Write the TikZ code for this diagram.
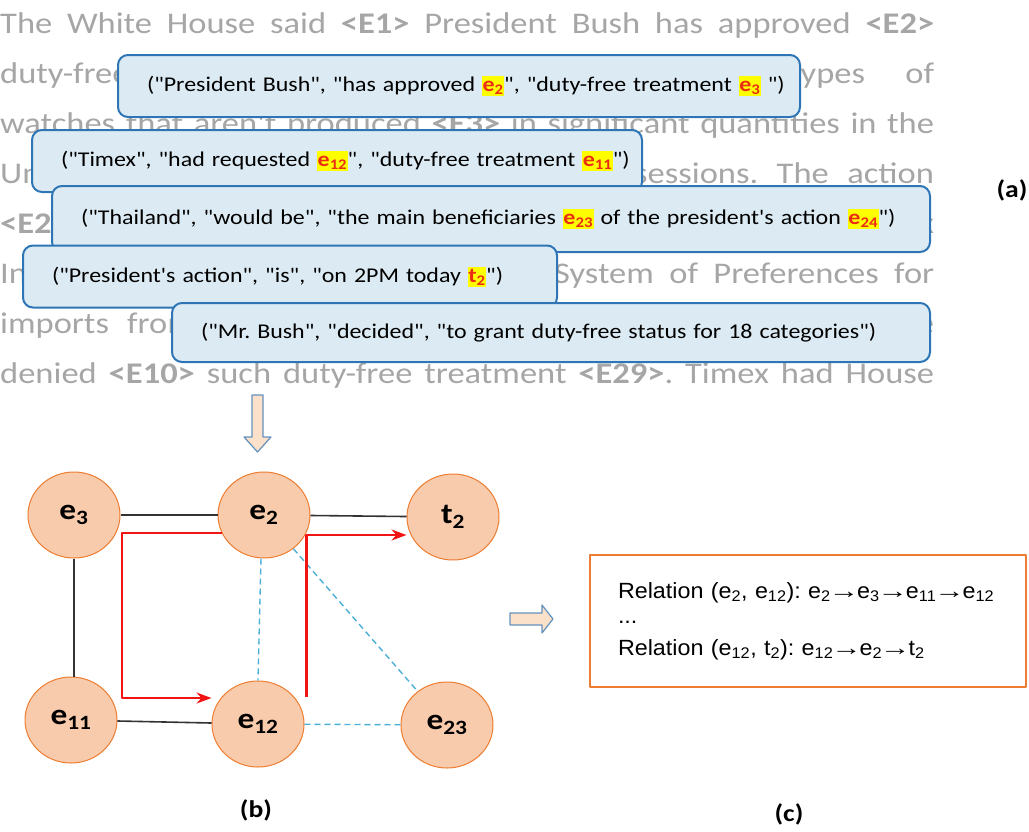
\documentclass[tikz,border=0pt]{standalone}
\usepackage{fontspec}
\usepackage{graphicx}
\setmainfont{Carlito}[Ligatures=TeXOff, FakeStretch=1.15]
\newfontfamily\tuplefont{Carlito}[Ligatures=TeXOff, FakeStretch=1.14]
\newfontfamily\arialfont{Liberation Sans}[FakeStretch=1.06]
\usetikzlibrary{shapes.geometric,arrows.meta,calc}
\frenchspacing

\definecolor{bggray}{RGB}{166,166,166}
\definecolor{tupfill}{RGB}{220,235,243}
\definecolor{tupline}{RGB}{46,117,182}
\definecolor{nodefill}{RGB}{248,203,173}
\definecolor{nodeline}{RGB}{237,125,49}
\definecolor{hlyellow}{RGB}{255,255,0}
\definecolor{entred}{RGB}{235,45,20}
\definecolor{pathred}{RGB}{240,20,20}
\definecolor{linkcyan}{RGB}{75,175,215}
\definecolor{arrowfill}{RGB}{251,224,202}
\definecolor{arrowline}{RGB}{100,145,190}

\newcommand{\ent}[2]{{\setlength{\fboxsep}{0.5pt}\colorbox{hlyellow}{\rule[-4pt]{0pt}{19pt}\textcolor{entred}{\textbf{#1}\textsubscript{\textbf{#2}}}}}}
\newcommand{\etag}[1]{\textbf{<E#1>}}
\newcommand{\ra}{\kern-2pt\scalebox{1.3}[1]{→}\kern-2pt}

\tikzset{
  bgline/.style={anchor=base west, inner sep=0pt, text=bggray, font=\fontsize{30}{36}\selectfont},
  tuple/.style={draw=tupline, fill=tupfill, line width=2pt, rounded corners=10pt, inner xsep=29pt, inner ysep=0pt, align=left, minimum height=62pt, font=\tuplefont\fontsize{21}{25}\selectfont},
  ent/.style={ellipse, draw=nodeline, fill=nodefill, line width=1pt, minimum width=92pt, minimum height=86pt, inner sep=0pt, font=\fontsize{29}{32}\selectfont\bfseries},
  link/.style={line width=1.6pt, draw=black!80},
  weak/.style={line width=1.4pt, draw=linkcyan, dash pattern=on 6pt off 4pt},
  relpath/.style={line width=2.4pt, draw=pathred, -{Stealth[length=15pt,width=11pt]}},
  relbox/.style={draw=nodeline, fill=white, line width=2.4pt, inner xsep=28pt, align=left, font=\arialfont\fontsize{22}{26}\selectfont},
  hollow/.style={draw=arrowline, fill=arrowfill, line width=1.2pt},
  caption/.style={font=\fontsize{24}{28}\selectfont\bfseries}
}

\begin{document}
\begin{tikzpicture}[x=1pt, y=-1pt, line join=round]
  \useasboundingbox (0,0) rectangle (1029,831);

  % (a) text with the extracted tuples on top
  \node[bgline] (l1) at (0,33) {\makebox[934pt][s]{The White House said \etag{1} President Bush has approved \etag{2}}};
  \node[bgline] (l2) at (0,83) {\makebox[934pt][s]{duty-free treatment for imports of certain types of}};
  \node[bgline] (l3) at (0,133) {\makebox[934pt][s]{watches that aren't produced \etag{3} in significant quantities in the}};
  \node[bgline] (l4) at (0,183) {\makebox[934pt][s]{United States, Virgin Islands and U.S. possessions. The action}};
  \node[bgline] (l5) at (0,233) {\makebox[934pt][s]{\etag{21} came in response to a petition filed by Timex}};
  \node[bgline] (l6) at (0,283) {\makebox[934pt][s]{Inc. for a change in the Generalized System of Preferences for}};
  \node[bgline] (l7) at (0,333) {\makebox[934pt][s]{imports from developing nations. Before, watch imports were}};
  \node[bgline] (l8) at (0,383) {\makebox[934pt][s]{denied \etag{10} such duty-free treatment \etag{29}. Timex had House}};

  \node[tuple, text width=624pt] (tA) at (459,86) {\mbox{("President Bush", "has approved \ent{e}{2}", "duty-free treatment \ent{e}{3} ")}};
  \node[tuple, text width=552pt] (tB) at (337,161) {\mbox{("Timex", "had requested \ent{e}{12}", "duty-free treatment \ent{e}{11}")}};
  \node[tuple, text width=820pt, minimum height=66pt] (tC) at (491,219) {\mbox{("Thailand", "would be", "the main beneficiaries \ent{e}{23} of the president's action \ent{e}{24}")}};
  \node[tuple, text width=476pt] (tD) at (290,276.5) {\mbox{("President's action", "is", "on 2PM today \ent{t}{2}")}};
  \node[tuple, text width=700pt, minimum height=59pt] (tE) at (551,332.5) {\mbox{("Mr. Bush", "decided", "to grant duty-free status for 18 categories")}};

  \node[caption] (capA) at (1012,190) {(a)};

  \coordinate (dtip) at (257.5,452);
  \draw[hollow] (dtip) -- ++(13.5,-15) -- ++(-8,0) -- ++(0,-42) -- ++(-11,0) -- ++(0,42) -- ++(-8,0) -- cycle;

  % (b) graph
  \node[ent] (e3) at (74,515) {e\textsubscript{3}};
  \node[ent] (e2) at (264,515) {e\textsubscript{2}};
  \node[ent] (t2) at (453,517) {t\textsubscript{2}};
  \node[ent] (e11) at (71,720) {e\textsubscript{11}};
  \node[ent] (e12) at (258,724) {e\textsubscript{12}};
  \node[ent] (e23) at (447,725) {e\textsubscript{23}};

  \draw[link] (e3) -- (e2);
  \draw[link] (e2) -- (t2);
  \draw[link] (e3.south) -- (e3.south |- e11.north);
  \draw[link] (e11) -- (e12);
  \draw[weak] ($(e2.south)+(-3,0)$) -- (e12.north);
  \draw[weak] (e2) -- (e23);
  \draw[weak] (e12) -- (e23);

  \draw[relpath] ($(e2.center)+(-42,18)$) -- ++(-100,0) |- ($(e12.west)+(0,-26)$);
  \draw[relpath] ($(e12.east)+(2,-27)$) |- ($(t2.west)+(0,18)$);

  \node[caption] (capB) at (256,810) {(b)};

  \coordinate (rtip) at (553,619);
  \draw[hollow] (rtip) -- ++(-11,-14) -- ++(0,8) -- ++(-32,0) -- ++(0,12) -- ++(32,0) -- ++(0,8) -- cycle;

  % (c) relation paths
  \node[relbox, text width=380pt, minimum height=132pt] (rel) at (808,621)
    {\mbox{Relation (e\textsubscript{2}, e\textsubscript{12}): e\textsubscript{2}\ra e\textsubscript{3}\ra e\textsubscript{11}\ra e\textsubscript{12}}\\[-1pt]
     ...\\[6pt]
     \mbox{Relation (e\textsubscript{12}, t\textsubscript{2}): e\textsubscript{12}\ra e\textsubscript{2}\ra t\textsubscript{2}}};

  \node[caption] (capC) at (789,814) {(c)};
\end{tikzpicture}
\end{document}
